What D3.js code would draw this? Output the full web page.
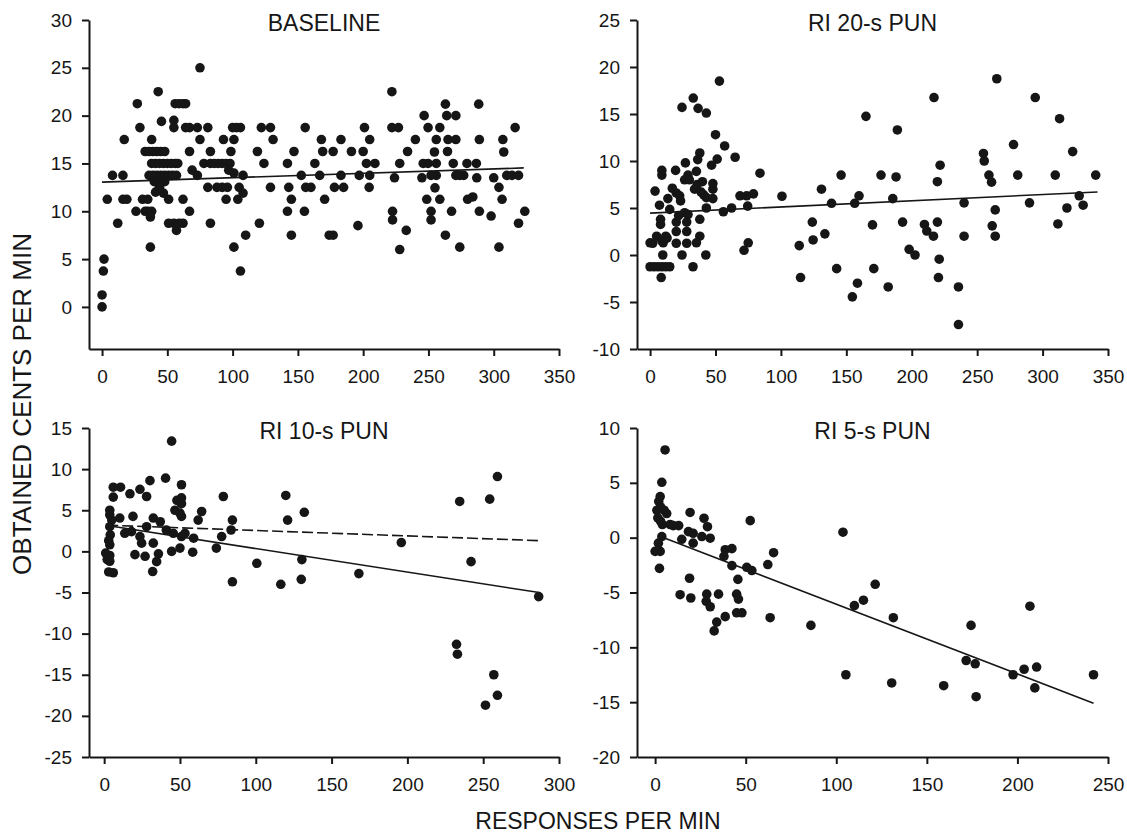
<!DOCTYPE html>
<html>
<head>
<meta charset="utf-8">
<script src="https://cdn.jsdelivr.net/npm/d3@7"></script>
<style>
  body { margin: 0; background: #fff; }
  #chart { width: 1127px; height: 833px; }
</style>
</head>
<body>
<div id="chart"></div>
<script>
// panel titles and axis titles
const titles = ["BASELINE", "RI 20-s PUN", "RI 10-s PUN", "RI 5-s PUN"];
const xTitle = "RESPONSES PER MIN";
const yTitle = "OBTAINED CENTS PER MIN";

// tick values
const xTicks350 = [0, 50, 100, 150, 200, 250, 300, 350];
const xTicks300 = [0, 50, 100, 150, 200, 250, 300];
const xTicks250 = [0, 50, 100, 150, 200, 250];
const yTicksBaseline = [0, 5, 10, 15, 20, 25, 30];
const yTicks20s = [-10, -5, 0, 5, 10, 15, 20, 25];
const yTicks10s = [-25, -20, -15, -10, -5, 0, 5, 10, 15];
const yTicks5s = [-20, -15, -10, -5, 0, 5, 10];

// [responses per min, obtained cents per min]
const baselinePts = [
  [0,0],[0,1.25],[1,3.75],[1.5,5],[4,11.25],[8,13.75],[12,8.75],[16,13.75],[17,17.5],[16,11.25],[19,11.25],
  [26,10],[27,21.25],[29,18.75],[31,11.25],[35,11.25],[33,10],[35,10],[38,10],[37,9.4],[37,6.25],[38,17.5],
  [33,16.25],[36,16.25],[39,16.25],[42,16.25],[45,16.25],[48,16.25],[43,22.5],[45.5,19.4],
  [38,15],[41,15],[44,15],[47,15],[50,15],[53,15],[56,15],[58,15],
  [36,13.75],[39,13.75],[42,13.75],[45,13.75],[48,13.75],[51,13.75],[54,13.75],[57,13.75],
  [40,13.1],[44,13.1],[48,13.1],[41,12],[47,11.9],[44,12.5],
  [51,11.25],[51,8.75],[55,19.5],[55,18.75],[56,21.25],[59,21.25],[62,21.25],[64,21.25],[55,8.75],[57,8],
  [59,8.75],[62,8.75],[62,11.25],[64,18.75],[67,18.75],[73,18.75],[67,10],[67,16.25],[69,14.3],[73,13.75],
  [75,25],[75,17.5],[78,15],[83,15],[81,18.75],[81,12.5],[83,16.25],[83,8.75],
  [86,15],[89,15],[92,15],[95,15],[98,15],[97,14.3],[88,12.5],[92,12.5],[96,12.5],[93,17.5],[98.7,16.25],
  [95,11.25],[101,17.5],[101,6.25],[100,18.75],[103,18.75],[106,18.75],[101,14],[104,11.25],[105,12.5],
  [106,3.75],[108,13.75],[108,11.9],[110,7.5],
  [119,16.25],[120.5,8.75],[122,18.75],[129,18.75],[124,15],[129,12.5],[131,17.5],[142,15],[142,10],
  [143,12.5],[145,11.25],[145,7.5],[147,16.25],[152.6,13.75],[155,10],[155.6,18.75],[156,12.5],[160,12.5],
  [163,15],[166.7,13.75],[168,17.5],[169,16.25],[170.5,11.25],[174,7.5],
  [177,16.25],[177,7.5],[183,17.5],[178,12.5],[185,12.5],[183,13.75],[191,16.25],[200,16.25],[196,8.5],
  [197,13.75],[201,18.75],[202.5,15],[209,15],[205,17.5],[205,13.75],[204.6,12.5],[222,22.5],[222,18.75],
  [227,18.75],[228,15],[224,13.5],[222.5,10],[222.5,9.1],[228,6],[233,8],[234,16.25],[240,17.5],[245,13.5],
  [246,15],[249.7,15],[246.7,20],[249.7,18.75],[248.7,11.25],[252,10],[252,9.1],[254.6,16.2],[256,15],
  [252,13.75],[256,13.75],[255,12.45],[256,17.5],[258.7,18.75],[258.7,11.25],[263,21.2],[264,20],[271,20],
  [265,17.5],[271,17.5],[264.6,16.25],[263,7.5],[267.7,10],[269,15],[271,13.75],[274,13.75],[277,13.75],
  [274,6.25],[279.5,15],[280,11.25],[284,11.5],[286.7,15],[287,13.5],[288.5,21.2],[289,17.5],[289,10],
  [298,9.5],[300,13.5],[304,6.25],[304,12.5],[306.4,11.25],[307,17.5],[307.7,16.2],[310,13.75],[314,13.75],
  [319,13.75],[316.4,18.75],[319,8.75],[323.8,10]
];

const pun20Pts = [
  [53,18.5],[33,16.7],[24.4,15.7],[36.7,15.6],[43,15.1],[50,12.8],[57,11.6],[65,10.4],[38,10.85],[36.4,10.15],
  [51.3,10.2],[47,9.55],[27,9.8],[19.5,9],[9,9],[9,8.5],[35.4,8.9],[29,8.5],[84,8.7],[26.4,8],[30,8],[36,7.5],
  [40,7.8],[48,7.6],[48,7],[3.8,6.8],[17,7.1],[34,7],[39,6.7],[41,6.4],[43,6.1],[48,6],[20,6.6],[22.6,6.3],
  [13.6,6],[23.3,5.75],[7.2,5.3],[15,4.85],[21.8,4.2],[26.4,4.5],[29,4.3],[43,5],[56,4.6],[62.3,5],[68.7,6.3],
  [73.8,6.3],[79,6.5],[74.6,5.2],[100.8,6.25],[8,3.8],[8,3.25],[38,3.8],[20,3.5],[28,3.5],[2,1.25],[5,2],
  [9,1.5],[13,1.8],[20,2.5],[28,2.5],[38,2],[0,1.3],[10,1.3],[12,2],[20,1.25],[28,1.25],[35.4,1.3],[9.7,0],
  [24.4,0],[42.6,0],[0,-1.25],[3,-1.25],[6,-1.25],[9,-1.25],[12,-1.25],[15,-1.25],[32.8,-1.25],[8.5,-2.4],
  [71.8,0.5],[75,1.3],
  [114,1],[115,-2.4],[124.6,1.6],[124,3.5],[131,7],[133.6,2.25],[138.7,5.5],[142.6,-1.45],[146,8.5],
  [154.6,-4.45],[158.5,-3],[156.4,5.5],[159.7,6.3],[165,14.75],[170,3.2],[171,-1.45],
  [176.5,8.5],[182,-3.4],[185.5,6],[188,8.3],[189,13.3],[193,3.5],[198,0.6],[202.5,0],[209.7,3.25],
  [211.5,2.55],[217,16.75],[216.6,2],[219.6,7.8],[219.6,3.5],[221.7,9.55],[221,-0.45],[220.4,-2.4],
  [235.7,-3.4],[235.7,-7.4],[240,5.55],[240,2],[254.8,10.8],[255.4,10],[259,8.5],[261,7.75],[261.5,3.1],
  [263.8,4.8],[263.8,2],[265,18.75],[277.8,11.75],[281,8.5],[290,5.55],[294.4,16.75],[309.7,8.5],
  [311.7,3.3],[313,14.5],[318.6,5],[323,11],[328,6.3],[331,5.3],[340.6,8.5]
];

const pun10Pts = [
  [44.5,13.4],[40.5,8.9],[30.2,8.6],[51,8.1],[6,7.8],[10.8,7.8],[17,7],[23.6,7.55],[28,6.67],[6,6.6],[51,6.5],
  [48,6.2],[51,5.8],[78.6,6.67],[119.8,6.8],[64.3,4.85],[62,3.8],[46.7,5],[50,4.65],[51,4.25],[3.7,5],
  [3.7,4.45],[10.3,4.05],[19,4.25],[32.4,4.05],[37,3.6],[84.6,3.8],[121,3.8],[132,4.75],[3.7,3],[4,2],[3,1.3],
  [13.6,2.2],[18,2.4],[23.6,1.8],[28,3],[41,2.6],[45.6,2.2],[51,1.8],[53.3,2.2],[59,1.6],[77.5,1.8],[83.7,2.6],
  [74,0.4],[24.7,1],[32.4,1],[44.5,0],[50,0.4],[58.4,-0.1],[20.3,-0.4],[27,-0.6],[35.8,-0.3],[34.6,-1.25],
  [32,-2.45],[3.7,0.8],[3.7,-0.5],[3.7,-1.2],[3,-2.5],[1,-0.2],[6,-2.6],[5,3.8],[2,-1],[84.6,-3.7],
  [100.7,-1.45],[116.5,-4],[130,-3.4],[130.4,-1],
  [168,-2.7],[196,1.07],[234.5,6.07],[254.3,6.35],[259.4,9.1],[242,-1.25],[232.4,-11.3],[233,-12.5],
  [257,-15],[259.4,-17.5],[251.5,-18.7],[286.6,-5.5]
];

const pun5Pts = [
  [5.5,8],[3.7,5.05],[2.8,3.75],[2,3.3],[1,2.5],[3,2.8],[5,2.5],[1.5,1.8],[3,1.5],[6.4,2.2],[4,1.2],[8.3,1.2],
  [10,1.1],[13,1.1],[19.3,2.3],[27,1.77],[28.9,1],[18.4,0.55],[21,0.4],[25.8,0.1],[30.4,-0.05],[14.7,-0.15],
  [21,-0.5],[3.7,0.1],[1.8,-0.5],[2.8,-1.25],[0,-1.25],[2.4,-2.8],[52.5,1.55],[103.7,0.5],[65.4,-1.37],
  [42.4,-1],[38.7,-1.1],[38,-1.7],[42.4,-2.55],[50.6,-2.7],[53.4,-3],[62.2,-2.45],[45.7,-3.8],[19,-3.7],
  [13.8,-5.2],[19.7,-5.5],[28.5,-5.15],[28.2,-5.8],[30.4,-6.3],[35,-5.15],[45,-5.15],[46,-5.6],[45,-6.85],
  [47.9,-6.85],[38.7,-7.2],[34,-7.7],[32.6,-8.5],[63.5,-7.3],[86,-8],[105.3,-12.5],[110,-6.2],[115,-5.7],
  [121.5,-4.25],
  [131.5,-7.3],[130.6,-13.25],[159.3,-13.5],[174.4,-8],[171.7,-11.2],[176.7,-11.5],[177.2,-14.5],
  [197.6,-12.5],[203.7,-12],[206.9,-6.25],[210.6,-11.8],[209.6,-13.7],[242,-12.5]
];

// fitted lines: [x start, x end, intercept, slope]
const baselineFit = [0, 323, 13.05, 0.0046];
const pun20Fit = [0, 342, 4.45, 0.0066];
const pun10Fit = [2, 287, 3.2, -0.0286];
const pun10FitDashed = [2, 287, 3.2, -0.0066];
const pun5Fit = [3, 242, 0.3, -0.0636];

const svg = d3.select("#chart")
  .append("svg")
  .attr("width", 1127)
  .attr("height", 833);

const font = "'Liberation Sans', Arial, Helvetica, sans-serif";
const ink = "#161616";

// plain hyphen for negatives, like the original figure
const fmt = function (d) { return String(d); };

// layout of the 4 panels
const panels = [
  { title: titles[0], pts: baselinePts, fits: [baselineFit], dashed: null,
    xDom: [-10, 350], yDom: [-4.4, 30], xTicks: xTicks350, yTicks: yTicksBaseline,
    left: 89, right: 559, top: 20, bottom: 349 },
  { title: titles[1], pts: pun20Pts, fits: [pun20Fit], dashed: null,
    xDom: [-10, 350], yDom: [-10, 25], xTicks: xTicks350, yTicks: yTicks20s,
    left: 637, right: 1108, top: 20, bottom: 349 },
  { title: titles[2], pts: pun10Pts, fits: [pun10Fit], dashed: pun10FitDashed,
    xDom: [-10, 300], yDom: [-25, 15], xTicks: xTicks300, yTicks: yTicks10s,
    left: 89, right: 559, top: 428, bottom: 757 },
  { title: titles[3], pts: pun5Pts, fits: [pun5Fit], dashed: null,
    xDom: [-10, 250], yDom: [-20, 10], xTicks: xTicks250, yTicks: yTicks5s,
    left: 637, right: 1108, top: 428, bottom: 757 }
];

function styleAxis(a) {
  a.attr("font-family", font).attr("font-size", 19);
  a.select(".domain").attr("stroke", ink).attr("stroke-width", 2);
  a.selectAll(".tick line").attr("stroke", ink).attr("stroke-width", 2);
  a.selectAll(".tick text").attr("fill", ink);
}

panels.forEach(function (p) {
  const x = d3.scaleLinear().domain(p.xDom).range([p.left, p.right]);
  const y = d3.scaleLinear().domain(p.yDom).range([p.bottom, p.top]);
  const g = svg.append("g");

  g.append("g")
    .attr("transform", "translate(0," + p.bottom + ")")
    .call(d3.axisBottom(x).tickValues(p.xTicks).tickFormat(fmt).tickSize(7).tickSizeOuter(0).tickPadding(14))
    .call(styleAxis);

  g.append("g")
    .attr("transform", "translate(" + p.left + ",0)")
    .call(d3.axisLeft(y).tickValues(p.yTicks).tickFormat(fmt).tickSize(7).tickSizeOuter(0).tickPadding(10))
    .call(styleAxis);

  // regression lines
  g.selectAll(".fit")
    .data(p.fits)
    .enter().append("line")
    .attr("class", "fit")
    .attr("x1", function (f) { return x(f[0]); })
    .attr("y1", function (f) { return y(f[2] + f[3] * f[0]); })
    .attr("x2", function (f) { return x(f[1]); })
    .attr("y2", function (f) { return y(f[2] + f[3] * f[1]); })
    .attr("stroke", ink)
    .attr("stroke-width", 1.6);

  if (p.dashed) {
    const f = p.dashed;
    g.append("line")
      .attr("x1", x(f[0])).attr("y1", y(f[2] + f[3] * f[0]))
      .attr("x2", x(f[1])).attr("y2", y(f[2] + f[3] * f[1]))
      .attr("stroke", ink)
      .attr("stroke-width", 1.6)
      .attr("stroke-dasharray", "11,4");
  }

  g.selectAll("circle")
    .data(p.pts)
    .enter().append("circle")
    .attr("cx", function (d) { return x(d[0]); })
    .attr("cy", function (d) { return y(d[1]); })
    .attr("r", 4.8)
    .attr("fill", ink);

  g.append("text")
    .attr("x", (p.left + p.right) / 2)
    .attr("y", p.top + 11)
    .attr("text-anchor", "middle")
    .attr("font-family", font)
    .attr("font-size", 23)
    .attr("fill", ink)
    .text(p.title);
});

// shared axis titles
svg.append("text")
  .attr("x", 598)
  .attr("y", 829)
  .attr("text-anchor", "middle")
  .attr("font-family", font)
  .attr("font-size", 23)
  .attr("fill", ink)
  .text(xTitle);

svg.append("text")
  .attr("transform", "translate(31,404)rotate(-90)")
  .attr("text-anchor", "middle")
  .attr("font-family", font)
  .attr("font-size", 26)
  .attr("fill", ink)
  .text(yTitle);
</script>
</body>
</html>
